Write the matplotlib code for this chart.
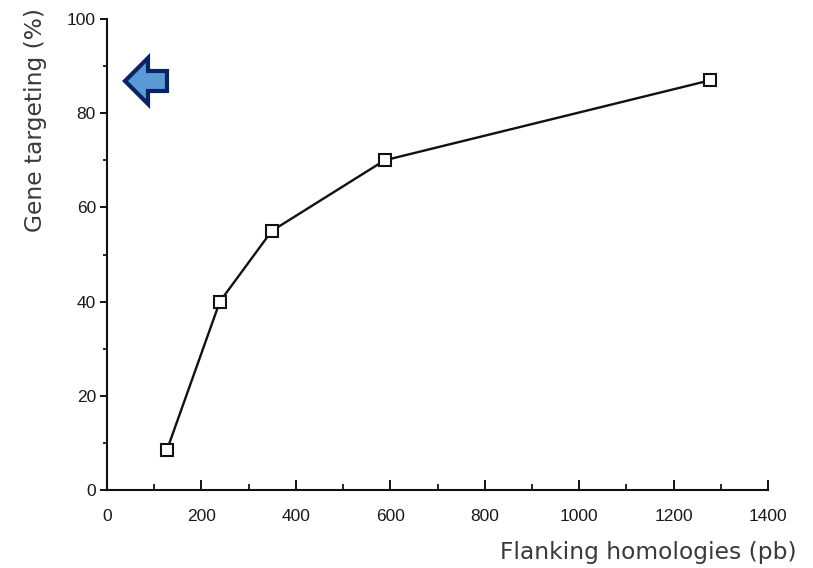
import numpy as np
import matplotlib
matplotlib.use("Agg")
import matplotlib.pyplot as plt
from matplotlib.patches import Polygon
from matplotlib.ticker import MultipleLocator

plt.rcParams['font.family'] = ['Liberation Sans', 'DejaVu Sans']

# data
homology_pb = [127, 239, 349, 588, 1278]
targeting_pct = [8.5, 40, 55, 70, 87]

x_ticks = [0, 200, 400, 600, 800, 1000, 1200, 1400]
y_ticks = [0, 20, 40, 60, 80, 100]

W, H = 813, 568
fig = plt.figure(figsize=(W / 100, H / 100), dpi=100)
ax = fig.add_axes([107 / W, 1 - 490 / H, (768 - 107) / W, (490 - 19) / H])

ax.plot(homology_pb, targeting_pct, color='#111111', lw=1.7,
        marker='s', markersize=8.5, markerfacecolor='white',
        markeredgecolor='#111111', markeredgewidth=1.5, clip_on=False)

ax.set_xlim(0, 1400)
ax.set_ylim(0, 100)
ax.set_xticks(x_ticks)
ax.set_yticks(y_ticks)
ax.xaxis.set_minor_locator(MultipleLocator(100))
ax.yaxis.set_minor_locator(MultipleLocator(10))

for s in ['top', 'right']:
    ax.spines[s].set_visible(False)
for s in ['left', 'bottom']:
    ax.spines[s].set_linewidth(1.5)
    ax.spines[s].set_color('#111111')

ax.tick_params(axis='x', which='major', direction='in', length=7, width=1.3, pad=14,
               labelsize=12.5, labelcolor='#1a1a1a')
ax.tick_params(axis='x', which='minor', direction='in', length=4, width=1.2)
ax.tick_params(axis='y', which='major', direction='out', length=5, width=1.3, pad=3,
               labelsize=12.5, labelcolor='#1a1a1a')
ax.tick_params(axis='y', which='minor', direction='out', length=3, width=1.2)

fig.text(797 / W, 1 - 552 / H, 'Flanking homologies (pb)', ha='right', va='center',
         fontsize=16.8, color='#3a3a3a', family='DejaVu Sans')
fig.text(36 / W, 1 - 120 / H, 'Gene targeting (%)', ha='center', va='center',
         rotation=90, fontsize=16.8, color='#3a3a3a', family='DejaVu Sans')

# blue arrow pointing left
pts = [(125, 81), (148, 58), (148, 71), (167, 71), (167, 91), (148, 91), (148, 104)]
pts = [(x / W, 1 - y / H) for x, y in pts]
fig.patches.append(Polygon(pts, closed=True, transform=fig.transFigure,
                           facecolor='#5b9bd5', edgecolor='#0a2463', lw=3,
                           joinstyle='miter'))

fig.savefig('out.png', dpi=100)
